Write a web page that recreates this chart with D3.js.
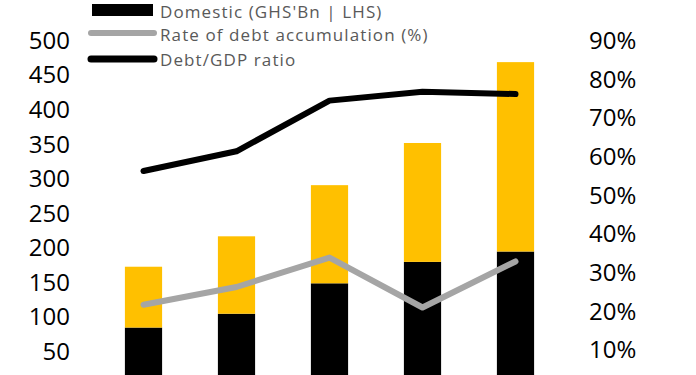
<!DOCTYPE html>
<html>
<head>
<meta charset="utf-8">
<script src="https://cdn.jsdelivr.net/npm/d3@7"></script>
<style>
  body { margin: 0; background: #fff; }
  svg { display: block; font-family: "Open Sans", sans-serif; }
</style>
</head>
<body>
<div id="chartContainer"></div>
<script>
// values
var years = ["Y1", "Y2", "Y3", "Y4", "Y5"];
var domestic = [85, 105, 149, 180, 195];        // GHS'Bn, black part
var external = [88, 112, 142, 172, 274];        // GHS'Bn, yellow part
var rateOfAccumulation = [0.217, 0.263, 0.339, 0.210, 0.329];
var debtToGdp = [0.563, 0.614, 0.745, 0.768, 0.762];
var leftTicks = [50, 100, 150, 200, 250, 300, 350, 400, 450, 500];
var rightTicks = [0.1, 0.2, 0.3, 0.4, 0.5, 0.6, 0.7, 0.8, 0.9];
var legendNames = ["Domestic (GHS'Bn | LHS)", "Rate of debt accumulation (%)", "Debt/GDP ratio"];

function init() {
    var w = 696;
    var h = 375;

    var svg = d3.select("#chartContainer")
        .append("svg")
        .attr("width", w)
        .attr("height", h);

    // x: five bars, centres ~93px apart
    var xScale = d3.scaleBand()
        .domain(years)
        .range([97, 562])
        .paddingInner(0.6)
        .paddingOuter(0.3);

    var yLeft = d3.scaleLinear()
        .domain([0, 500])
        .range([386.3, 40.7]);

    var yRight = d3.scaleLinear()
        .domain([0, 0.9])
        .range([388.7, 40.7]);

    var stacked = years.map(function (y, i) {
        return { year: y, dom: domestic[i], ext: external[i] };
    });

    // domestic bars (black)
    svg.selectAll("rect.dom")
        .data(stacked)
        .enter()
        .append("rect")
        .attr("class", "dom")
        .attr("x", function (d) { return xScale(d.year); })
        .attr("y", function (d) { return yLeft(d.dom); })
        .attr("width", xScale.bandwidth())
        .attr("height", function (d) { return yLeft(0) - yLeft(d.dom); })
        .attr("fill", "#000");

    // external bars (yellow) on top
    svg.selectAll("rect.ext")
        .data(stacked)
        .enter()
        .append("rect")
        .attr("class", "ext")
        .attr("x", function (d) { return xScale(d.year); })
        .attr("y", function (d) { return yLeft(d.dom + d.ext); })
        .attr("width", xScale.bandwidth())
        .attr("height", function (d) { return yLeft(d.dom) - yLeft(d.dom + d.ext); })
        .attr("fill", "#FFC000");

    var cx = function (d, i) { return xScale(years[i]) + xScale.bandwidth() / 2; };

    var line = d3.line()
        .x(cx)
        .y(function (d) { return yRight(d); });

    svg.append("path")
        .datum(rateOfAccumulation)
        .attr("fill", "none")
        .attr("stroke", "#A5A5A5")
        .attr("stroke-width", 6)
        .attr("stroke-linecap", "round")
        .attr("stroke-linejoin", "round")
        .attr("d", line);

    svg.append("path")
        .datum(debtToGdp)
        .attr("fill", "none")
        .attr("stroke", "#000")
        .attr("stroke-width", 6)
        .attr("stroke-linecap", "round")
        .attr("stroke-linejoin", "round")
        .attr("d", line);

    // axes (no lines, labels only)
    var leftAxis = d3.axisLeft(yLeft)
        .tickValues(leftTicks)
        .tickSize(0)
        .tickPadding(0);

    var gl = svg.append("g")
        .attr("transform", "translate(70,0)")
        .call(leftAxis);
    gl.select(".domain").remove();
    gl.selectAll("text")
        .attr("font-family", "Open Sans, sans-serif")
        .attr("font-size", "24px")
        .attr("fill", "#000");

    var rightAxis = d3.axisRight(yRight)
        .tickValues(rightTicks)
        .tickFormat(d3.format(".0%"))
        .tickSize(0)
        .tickPadding(0);

    var gr = svg.append("g")
        .attr("transform", "translate(589,0)")
        .call(rightAxis);
    gr.select(".domain").remove();
    gr.selectAll("text")
        .attr("font-family", "Open Sans, sans-serif")
        .attr("font-size", "24px")
        .attr("fill", "#000");

    // legend
    var leg = svg.append("g").attr("class", "legend");
    var rowY = [12.5, 35.5, 60];

    leg.append("rect")
        .attr("x", 92).attr("y", 4)
        .attr("width", 61).attr("height", 12)
        .attr("fill", "#000");

    leg.append("line")
        .attr("x1", 91).attr("x2", 154)
        .attr("y1", 33).attr("y2", 33)
        .attr("stroke", "#A5A5A5").attr("stroke-width", 6)
        .attr("stroke-linecap", "round");

    leg.append("line")
        .attr("x1", 91).attr("x2", 154)
        .attr("y1", 59).attr("y2", 59)
        .attr("stroke", "#000").attr("stroke-width", 7)
        .attr("stroke-linecap", "round");

    leg.selectAll("text")
        .data(legendNames)
        .enter()
        .append("text")
        .attr("x", 160)
        .attr("y", function (d, i) { return rowY[i]; })
        .attr("dy", "0.35em")
        .attr("font-size", "17px")
        .attr("letter-spacing", "1.1px")
        .attr("fill", "#595959")
        .text(function (d) { return d; });
}

window.onload = init;
</script>
</body>
</html>
